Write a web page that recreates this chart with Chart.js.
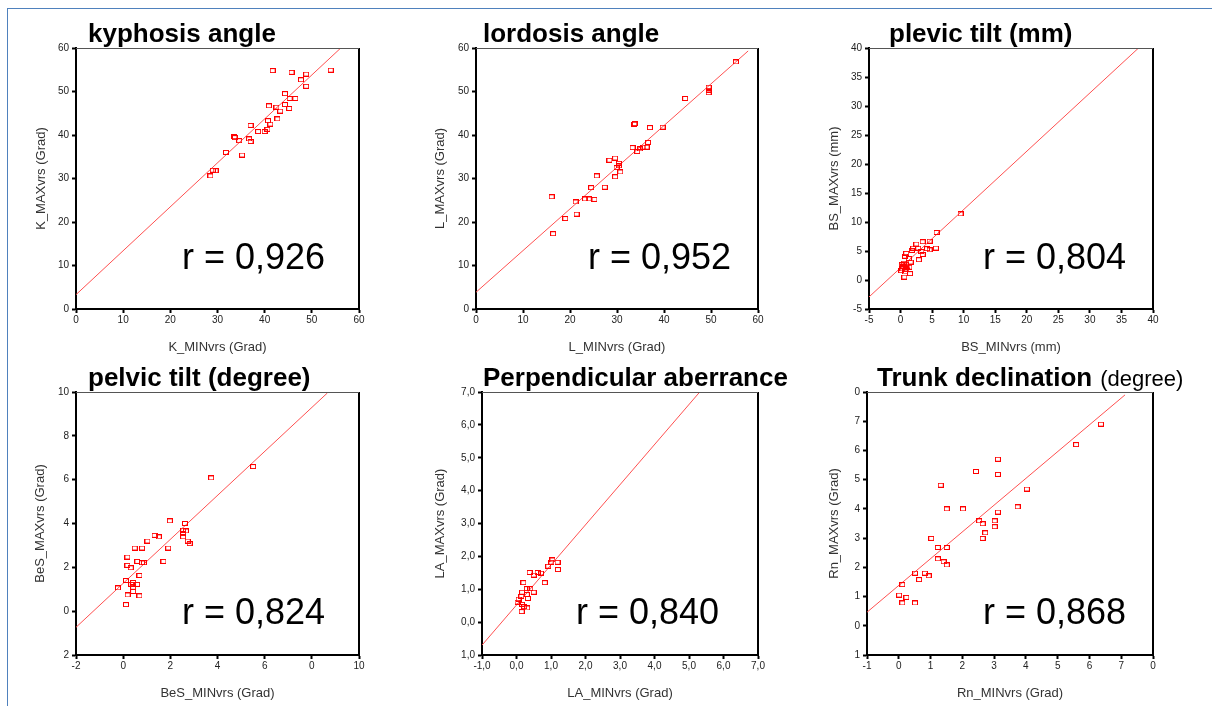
<!DOCTYPE html>
<html lang="en">
<head>
<meta charset="UTF-8">
<title>MIN vs MAX measurements</title>
<script src="https://cdn.jsdelivr.net/npm/chart.js"></script>
<style>
    body {
        margin: 0;
        width: 1212px;
        height: 706px;
        overflow: hidden;
        position: relative;
        background: #fff;
        font-family: 'Liberation Sans', Arial, sans-serif;
    }
    #frame {
        position: absolute;
        left: 7px;
        top: 8px;
        width: 1210px;
        height: 700px;
        border-left: 1px solid #4f81bd;
        border-top: 1px solid #4f81bd;
    }
    canvas { position: absolute; }
</style>
</head>
<body>
<div id="frame"></div>
<canvas id="c0"></canvas>
<canvas id="c1"></canvas>
<canvas id="c2"></canvas>
<canvas id="c3"></canvas>
<canvas id="c4"></canvas>
<canvas id="c5"></canvas>
<script>
// --- data (x = MIN, y = MAX) ---
const kyphMin = [41.7, 45.7, 54.0, 48.8, 47.7, 48.8, 44.3, 45.3, 46.5, 40.9, 42.5, 44.3, 45.2, 43.3, 42.7, 40.7, 41.2, 37.0, 38.6, 40.0, 40.6, 33.6, 33.7, 34.6, 36.7, 37.0, 31.8, 35.2, 29.0, 29.6, 28.5];
const kyphMax = [54.8, 54.4, 54.9, 54.0, 52.7, 51.2, 49.5, 48.4, 48.4, 46.7, 46.4, 47.0, 46.1, 45.5, 43.7, 43.3, 42.5, 42.2, 40.8, 40.8, 41.3, 39.6, 39.4, 38.7, 39.1, 38.5, 36.0, 35.4, 31.9, 31.8, 30.6];

const lordMin = [55.3, 49.5, 49.5, 49.5, 44.5, 33.8, 33.7, 37.0, 39.7, 36.6, 33.3, 35.6, 36.3, 34.3, 34.9, 29.6, 28.4, 30.4, 30.4, 29.9, 30.7, 29.6, 25.7, 24.5, 27.4, 16.1, 21.2, 23.2, 24.0, 25.2, 21.4, 19.0, 16.4];
const lordMax = [56.8, 51.0, 50.3, 49.7, 48.4, 42.6, 42.5, 41.7, 41.8, 38.3, 37.1, 37.2, 37.2, 36.2, 36.8, 34.7, 34.2, 33.5, 32.9, 32.5, 31.5, 30.4, 30.6, 27.9, 28.0, 25.8, 24.6, 25.3, 25.3, 25.2, 21.8, 20.8, 17.3];

const tiltMmMin = [9.5, 5.7, 5.6, 4.6, 4.6, 4.2, 3.5, 3.5, 3.3, 2.5, 2.8, 2.9, 2.0, 1.8, 0.9, 0.7, 1.3, 1.6, 0.8, 1.4, 0.4, 0.3, 0.9, 0.7, 1.5, 0.6, 0.1, 0.5, 1.1, 0.2];
const tiltMmMax = [11.4, 8.2, 5.5, 6.7, 5.2, 5.4, 6.6, 4.4, 4.9, 6.2, 5.5, 3.5, 5.5, 5.1, 4.6, 4.1, 3.7, 3.1, 2.7, 2.2, 2.3, 1.9, 1.8, 1.4, 1.1, 0.5, 1.6, 2.9, 2.4, 2.6];

const tiltDegMin = [5.51, 3.73, 1.98, 2.62, 2.54, 2.66, 2.54, 2.54, 2.74, 2.82, 1.33, 1.51, 1.03, 0.49, 0.80, 1.91, 1.71, 0.18, 0.60, 0.80, 0.88, 0.18, 0.32, 0.69, 0.12, -0.22, 0.34, 0.42, 0.59, 0.42, 0.42, 0.19, 0.69, 0.12];
const tiltDegMax = [6.60, 6.08, 4.12, 4.00, 3.70, 3.66, 3.54, 3.39, 3.20, 3.08, 3.46, 3.39, 3.20, 2.88, 2.88, 2.88, 2.27, 2.47, 2.27, 2.21, 2.21, 2.09, 1.98, 1.63, 1.40, 1.06, 1.22, 1.31, 1.22, 1.09, 0.90, 0.74, 0.70, 0.30];

const perpMin = [1.04, 1.01, 1.19, 1.20, 0.92, 0.38, 0.50, 0.61, 0.71, 0.82, 0.20, 0.30, 0.40, 0.50, 0.16, 0.30, 0.14, 0.06, 0.33, 0.16, 0.22, 0.31, 0.15, 0.03];
const perpMax = [1.89, 1.82, 1.82, 1.60, 1.70, 1.51, 1.43, 1.51, 1.49, 1.20, 1.20, 1.02, 1.02, 0.91, 0.91, 0.84, 0.78, 0.70, 0.72, 0.54, 0.47, 0.43, 0.32, 0.61];

const trunkMin = [6.36, 5.58, 3.12, 2.43, 3.12, 1.32, 4.03, 1.51, 2.02, 3.74, 3.12, 2.53, 3.02, 2.64, 3.02, 2.72, 2.64, 1.02, 1.23, 1.51, 1.23, 1.41, 1.51, 0.51, 0.82, 0.94, 0.64, 0.11, 0.01, 0.24, 0.11, 0.51];
const trunkMax = [6.90, 6.20, 5.70, 5.28, 5.18, 4.81, 4.68, 4.00, 4.00, 4.07, 3.89, 3.59, 3.59, 3.49, 3.39, 3.18, 2.99, 2.99, 2.68, 2.68, 2.29, 2.19, 2.08, 1.80, 1.80, 1.71, 1.58, 1.41, 1.05, 0.97, 0.78, 0.78];

// regression lines: intercept, slope, drawn x range
const fitIntercept = [3.3, 3.85, 2.1, 1.27, 0.52, 1.38];
const fitSlope = [1.01, 0.958, 1.005, 1.003, 1.22, 0.916];
const fitFrom = [0, 0, -5, -2, -1, -1];
const fitTo = [56.1, 57.9, 37.7, 8.66, 5.31, 7.12];

const rValues = ['r = 0,926', 'r = 0,952', 'r = 0,804', 'r = 0,824', 'r = 0,840', 'r = 0,868'];
const titles = ['kyphosis angle', 'lordosis angle', 'plevic tilt (mm)', 'pelvic tilt (degree)', 'Perpendicular aberrance', 'Trunk declination'];
const xTitles = ['K_MINvrs (Grad)', 'L_MINvrs (Grad)', 'BS_MINvrs (mm)', 'BeS_MINvrs (Grad)', 'LA_MINvrs (Grad)', 'Rn_MINvrs (Grad)'];
const yTitles = ['K_MAXvrs (Grad)', 'L_MAXvrs (Grad)', 'BS_MAXvrs (mm)', 'BeS_MAXvrs (Grad)', 'LA_MAXvrs (Grad)', 'Rn_MAXvrs (Grad)'];

// tick labels as printed, bottom/left first
const ticks60 = ['0', '10', '20', '30', '40', '50', '60'];
const ticks40 = ['-5', '0', '5', '10', '15', '20', '25', '30', '35', '40'];
const tiltDegXTicks = ['-2', '0', '2', '4', '6', '0', '10'];
const tiltDegYTicks = ['2', '0', '2', '4', '6', '8', '10'];
const perpXTicks = ['-1,0', '0,0', '1,0', '2,0', '3,0', '4,0', '5,0', '6,0', '7,0'];
const perpYTicks = ['1,0', '0,0', '1,0', '2,0', '3,0', '4,0', '5,0', '6,0', '7,0'];
const trunkXTicks = ['-1', '0', '1', '2', '3', '4', '5', '6', '7', '0'];
const trunkYTicks = ['1', '0', '1', '2', '3', '4', '5', '6', '7', '0'];

// panel layout (plot area in page pixels)
const panels = [
    { x: kyphMin, y: kyphMax, min: 0, max: 60, step: 10, xt: ticks60, yt: ticks60, L: 76, R: 359, T: 48, B: 309, row: 0, tDx: 12, rDx: 106, yPad: 7.8 },
    { x: lordMin, y: lordMax, min: 0, max: 60, step: 10, xt: ticks60, yt: ticks60, L: 476, R: 758, T: 48, B: 309, row: 0, tDx: 7, rDx: 112, yPad: 6.8 },
    { x: tiltMmMin, y: tiltMmMax, min: -5, max: 40, step: 5, xt: ticks40, yt: ticks40, L: 869, R: 1153, T: 48, B: 309, row: 0, tDx: 20, rDx: 114, yPad: 7.8 },
    { x: tiltDegMin, y: tiltDegMax, min: -2, max: 10, step: 2, xt: tiltDegXTicks, yt: tiltDegYTicks, L: 76, R: 359, T: 392, B: 655, row: 1, tDx: 12, rDx: 106, yPad: 6.8 },
    { x: perpMin, y: perpMax, min: -1, max: 7, step: 1, xt: perpXTicks, yt: perpYTicks, L: 482, R: 758, T: 392, B: 655, row: 1, tDx: 1, rDx: 94, yPad: 0.8 },
    { x: trunkMin, y: trunkMax, min: -1, max: 8, step: 1, xt: trunkXTicks, yt: trunkYTicks, L: 867, R: 1153, T: 392, B: 655, row: 1, tDx: 10, rDx: 116, yPad: 9.8, sub: '(degree)' }
];
const rowTop = [0, 352];
const Y_AXIS_W = 50, X_AXIS_H = 46, PAD_RIGHT = 42;
const FONT = "'Liberation Sans', Arial, sans-serif";

// small hollow rectangle used as marker
function boxMark() {
    const c = document.createElement('canvas');
    c.width = 6; c.height = 5;
    const g = c.getContext('2d');
    g.strokeStyle = '#ff0000';
    g.lineWidth = 1;
    g.strokeRect(0.5, 0.5, 5, 4);
    return c;
}
const mark = boxMark();

// frame, panel title and r value
const annot = {
    id: 'annot',
    afterDraw(chart, args, o) {
        const { ctx, chartArea: a } = chart;
        ctx.save();
        ctx.strokeStyle = '#000';
        ctx.lineWidth = 2;
        ctx.beginPath();
        ctx.moveTo(a.right, a.bottom);
        ctx.lineTo(a.right, a.top);
        ctx.stroke();
        ctx.lineWidth = 1;
        ctx.strokeStyle = '#555';
        ctx.beginPath();
        ctx.moveTo(a.left, a.top + 0.5);
        ctx.lineTo(a.right, a.top + 0.5);
        ctx.stroke();

        ctx.fillStyle = '#000';
        ctx.textBaseline = 'alphabetic';
        ctx.font = 'bold 26px ' + FONT;
        ctx.fillText(o.title, a.left + o.tDx, a.top - 6);
        if (o.sub) {
            const w = ctx.measureText(o.title).width;
            ctx.font = '22px ' + FONT;
            ctx.fillText(o.sub, a.left + o.tDx + w + 8, a.top - 6);
        }
        ctx.font = '36px ' + FONT;
        ctx.fillText(o.r, a.left + o.rDx, a.top + o.rDy);
        ctx.restore();
    }
};

function axis(p, labels, title, isX, titlePad) {
    return {
        type: 'linear',
        min: p.min,
        max: p.max,
        ticks: {
            stepSize: p.step,
            autoSkip: false,
            maxRotation: 0,
            color: '#222',
            padding: isX ? 1 : 3,
            font: { size: 10, family: FONT },
            callback: (v, i) => labels[i]
        },
        grid: { drawOnChartArea: false, drawTicks: true, tickLength: 4, tickWidth: 2, tickColor: '#000' },
        border: { display: true, color: '#000', width: 2 },
        title: { display: true, text: title, color: '#333', font: { size: 13, family: FONT }, padding: titlePad },
        afterFit: s => { if (isX) s.height = X_AXIS_H; else s.width = Y_AXIS_W; }
    };
}

panels.forEach((p, i) => {
    const cv = document.getElementById('c' + i);
    const top = rowTop[p.row];
    const left = p.L - Y_AXIS_W;
    const w = p.R - left + PAD_RIGHT;
    const h = p.B + X_AXIS_H - top;
    cv.width = w; cv.height = h;
    cv.style.left = left + 'px';
    cv.style.top = top + 'px';

    const pts = p.x.map((v, k) => ({ x: v, y: p.y[k] }));
    const fit = [fitFrom[i], fitTo[i]].map(x => ({ x: x, y: fitIntercept[i] + fitSlope[i] * x }));

    new Chart(cv, {
        type: 'scatter',
        data: {
            datasets: [
                { data: pts, pointStyle: mark, pointRadius: 3, showLine: false, borderColor: '#ff0000' },
                { data: fit, showLine: true, pointRadius: 0, borderColor: '#ff5050', borderWidth: 1 }
            ]
        },
        options: {
            responsive: false,
            animation: false,
            devicePixelRatio: 1,
            layout: { padding: { left: 0, top: p.T - top, right: PAD_RIGHT, bottom: 0 } },
            plugins: {
                legend: { display: false },
                tooltip: { enabled: false },
                annot: { title: titles[i], sub: p.sub, r: rValues[i], tDx: p.tDx, rDx: p.rDx, rDy: p.row ? 232 : 221 }
            },
            scales: {
                x: axis(p, p.xt, xTitles[i], true, { top: 0, bottom: 0 }),
                y: axis(p, p.yt, yTitles[i], false, { top: p.yPad, bottom: 0 })
            }
        },
        plugins: [annot]
    });
});
</script>
</body>
</html>
